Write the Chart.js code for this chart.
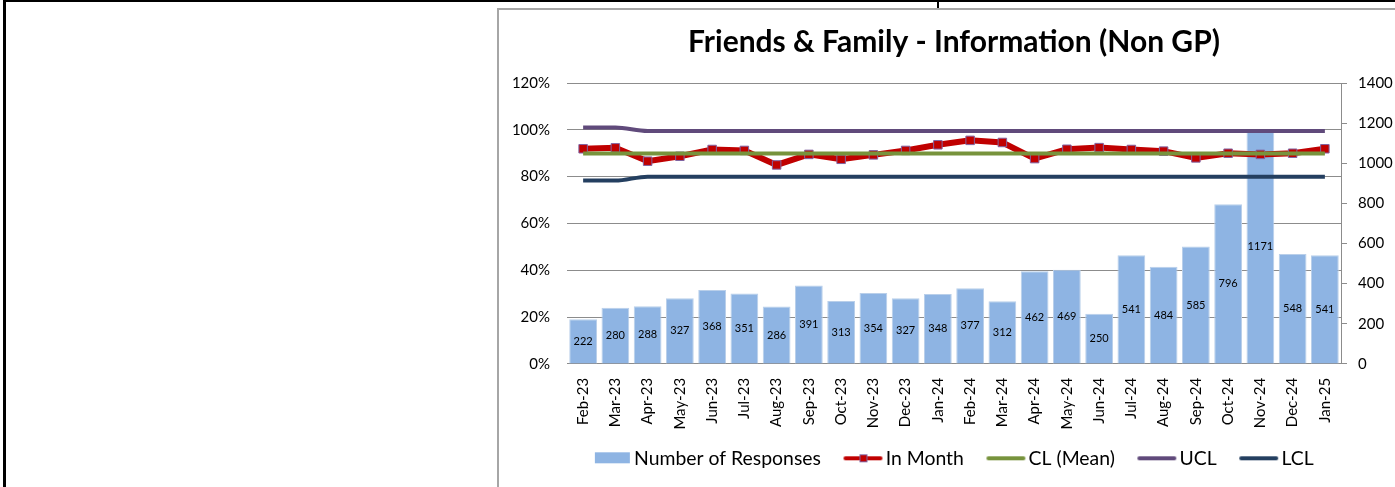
<!DOCTYPE html>
<html>
<head>
<meta charset="utf-8">
<title>Friends & Family - Information (Non GP)</title>
<script src="https://cdn.jsdelivr.net/npm/chart.js@4.4.1/dist/chart.umd.min.js"></script>
<style>
  html, body { margin: 0; padding: 0; background: #fff; overflow: hidden; }
  body { width: 1395px; height: 487px; position: relative; font-family: Lato, sans-serif; }
  .sheet { position: absolute; left: 3px; top: 0; width: 1500px; height: 600px;
    border-top: 2px solid #000; border-left: 3px solid #000; }
  .notch { position: absolute; left: 937px; top: 0; width: 2px; height: 8px; background: #000; }
  .frame { position: absolute; left: 497px; top: 8px; width: 918px; height: 490px;
    border-top: 2px solid #a6a6a6; border-left: 2px solid #a6a6a6; background: #fff; }
  .frame canvas { position: absolute; left: 0; top: 0; }
</style>
</head>
<body>
<div class="sheet"></div>
<div class="notch"></div>
<div class="frame">
  <canvas id="ffChart" width="918" height="477"></canvas>
</div>
<script>
const months = ['Feb-23', 'Mar-23', 'Apr-23', 'May-23', 'Jun-23', 'Jul-23', 'Aug-23', 'Sep-23',
  'Oct-23', 'Nov-23', 'Dec-23', 'Jan-24', 'Feb-24', 'Mar-24', 'Apr-24', 'May-24', 'Jun-24',
  'Jul-24', 'Aug-24', 'Sep-24', 'Oct-24', 'Nov-24', 'Dec-24', 'Jan-25']

const responses = [222, 280, 288, 327, 368, 351, 286, 391, 313, 354, 327, 348, 377, 312,
  462, 469, 250, 541, 484, 585, 796, 1171, 548, 541]

// percentage positive in month
const inMonth = [0.919, 0.923, 0.866, 0.887, 0.916, 0.912, 0.850, 0.895, 0.874, 0.893,
  0.912, 0.936, 0.955, 0.946, 0.877, 0.917, 0.924, 0.916, 0.909, 0.880, 0.900, 0.895,
  0.900, 0.919]

const clMean = [0.899, 0.899, 0.899, 0.899, 0.899, 0.899, 0.899, 0.899, 0.899, 0.899,
  0.899, 0.899, 0.899, 0.899, 0.899, 0.899, 0.899, 0.899, 0.899, 0.899, 0.899, 0.899,
  0.899, 0.899]

const ucl = [1.010, 1.010, 0.995, 0.995, 0.995, 0.995, 0.995, 0.995, 0.995, 0.995,
  0.995, 0.995, 0.995, 0.995, 0.995, 0.995, 0.995, 0.995, 0.995, 0.995, 0.995, 0.995,
  0.995, 0.995]

const lcl = [0.783, 0.783, 0.800, 0.800, 0.800, 0.800, 0.800, 0.800, 0.800, 0.800,
  0.800, 0.800, 0.800, 0.800, 0.800, 0.800, 0.800, 0.800, 0.800, 0.800, 0.800, 0.800,
  0.800, 0.800]

const pctTicks = [0, 0.2, 0.4, 0.6, 0.8, 1.0, 1.2]
const countTicks = [0, 200, 400, 600, 800, 1000, 1200, 1400]

const colors = {
  bar: '#8eb4e3',
  barEdge: '#b9cfea',
  inMonth: '#c00000',
  marker: '#8064a2',
  cl: '#77933c',
  ucl: '#604a7b',
  lcl: '#243f60',
  grid: '#8c8c8c',
  text: '#000000',
}

const FONT = 'Lato, "Open Sans", sans-serif'
const LEGEND_FONT_SIZE = 19.4
const LEGEND_BOX = 42

// legend swatches are small canvases so the line samples can carry a marker;
// the image runs right up to where the legend text starts
function swatch(kind, color) {
  const w = Math.round(LEGEND_BOX + LEGEND_FONT_SIZE)
  const h = 16
  const c = document.createElement('canvas')
  c.width = w
  c.height = h
  const ctx = c.getContext('2d')
  if (kind === 'bar') {
    ctx.fillStyle = color
    ctx.fillRect(w - 4 - 35, 2, 35, 11)
    return c
  }
  const x1 = w - 3
  const x0 = x1 - 39
  ctx.strokeStyle = color
  ctx.lineWidth = 4
  ctx.lineCap = 'round'
  ctx.beginPath()
  ctx.moveTo(x0 + 2, h / 2)
  ctx.lineTo(x1 - 2, h / 2)
  ctx.stroke()
  if (kind === 'marker') {
    const mx = Math.round((x0 + x1) / 2) - 4
    ctx.fillStyle = colors.inMonth
    ctx.fillRect(mx, h / 2 - 4, 8, 8)
    ctx.strokeStyle = colors.marker
    ctx.lineWidth = 1
    ctx.strokeRect(mx + 0.5, h / 2 - 3.5, 7, 7)
  }
  return c
}

const swatches = [
  swatch('bar', colors.bar),
  swatch('marker', colors.inMonth),
  swatch('line', colors.cl),
  swatch('line', colors.ucl),
  swatch('line', colors.lcl),
]

// writes the response count in the middle of each bar
const barValueLabels = {
  id: 'barValueLabels',
  afterDatasetDraw(chart, args) {
    if (args.index !== 0) return
    const ctx = chart.ctx
    ctx.save()
    ctx.font = '11px ' + FONT
    ctx.fillStyle = colors.text
    ctx.textAlign = 'center'
    ctx.textBaseline = 'middle'
    args.meta.data.forEach((bar, i) => {
      ctx.fillText(String(responses[i]), bar.x, (bar.y + bar.base) / 2)
    })
    ctx.restore()
  },
}

const lineDefaults = {
  type: 'line',
  yAxisID: 'yPct',
  fill: false,
  pointRadius: 0,
  pointHoverRadius: 0,
  borderWidth: 4,
  cubicInterpolationMode: 'monotone',
  tension: 0.4,
}

new Chart(document.getElementById('ffChart'), {
  data: {
    labels: months,
    datasets: [
      {
        type: 'bar',
        label: 'Number of Responses',
        data: responses,
        yAxisID: 'yCount',
        backgroundColor: colors.bar,
        borderColor: colors.barEdge,
        borderWidth: 1,
        barPercentage: 0.86,
        categoryPercentage: 1,
        order: 5,
      },
      {
        type: 'line',
        label: 'In Month',
        data: inMonth,
        yAxisID: 'yPct',
        borderColor: colors.inMonth,
        borderWidth: 6,
        tension: 0,
        pointStyle: 'rect',
        pointRadius: 6,
        pointBackgroundColor: colors.inMonth,
        pointBorderColor: colors.marker,
        pointBorderWidth: 1,
        order: 4,
      },
      { ...lineDefaults, label: 'CL (Mean)', data: clMean, borderColor: colors.cl, order: 3 },
      { ...lineDefaults, label: 'UCL', data: ucl, borderColor: colors.ucl, order: 2 },
      { ...lineDefaults, label: 'LCL', data: lcl, borderColor: colors.lcl, order: 1 },
    ],
  },
  options: {
    responsive: false,
    animation: false,
    layout: { padding: { left: 0, right: 20, top: 0, bottom: 9 } },
    plugins: {
      title: {
        display: true,
        fullSize: false,
        text: 'Friends & Family - Information (Non GP)',
        color: colors.text,
        font: { family: FONT, size: 30, weight: 'bold' },
        padding: { top: 14, bottom: 23 },
      },
      legend: {
        position: 'bottom',
        labels: {
          usePointStyle: true,
          pointStyleWidth: LEGEND_BOX,
          boxHeight: 16,
          padding: 13,
          color: colors.text,
          font: { family: FONT, size: LEGEND_FONT_SIZE },
          generateLabels(chart) {
            return chart.data.datasets.map((ds, i) => ({
              text: ds.label,
              pointStyle: swatches[i],
              fillStyle: 'transparent',
              strokeStyle: 'transparent',
              lineWidth: 0,
              datasetIndex: i,
              hidden: false,
            }))
          },
        },
      },
      tooltip: { enabled: false },
    },
    scales: {
      x: {
        offset: true,
        grid: { display: false },
        border: { display: true, color: colors.grid },
        ticks: {
          color: colors.text,
          font: { family: FONT, size: 15 },
          minRotation: 90,
          maxRotation: 90,
          autoSkip: false,
          padding: 6,
        },
      },
      yPct: {
        position: 'left',
        min: 0,
        max: 1.2,
        afterBuildTicks(axis) {
          axis.ticks = pctTicks.map(v => ({ value: v }))
        },
        afterFit(axis) {
          axis.width = 68
        },
        grid: { color: colors.grid, drawTicks: false },
        border: { display: false },
        ticks: {
          color: colors.text,
          font: { family: FONT, size: 15 },
          padding: 17,
          callback: v => Math.round(v * 100) + '%',
        },
      },
      yCount: {
        position: 'right',
        min: 0,
        max: 1400,
        afterBuildTicks(axis) {
          axis.ticks = countTicks.map(v => ({ value: v }))
        },
        afterFit(axis) {
          axis.width = 56
        },
        grid: { drawOnChartArea: false, color: colors.grid, tickLength: 6 },
        border: { display: true, color: colors.grid },
        ticks: {
          color: colors.text,
          font: { family: FONT, size: 15 },
          padding: 11,
          callback: v => String(v),
        },
      },
    },
  },
  plugins: [barValueLabels],
})
</script>
</body>
</html>
